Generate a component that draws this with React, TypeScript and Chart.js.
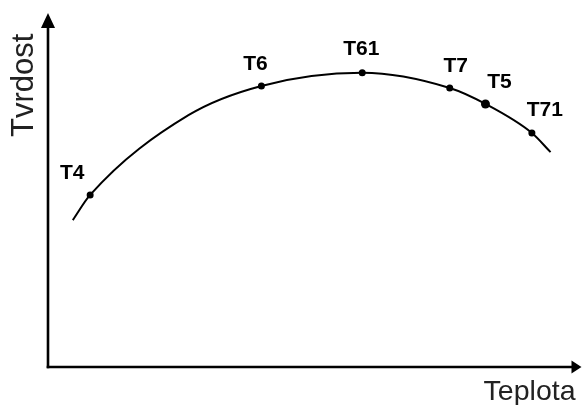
import React, { useEffect, useRef } from "react";
import { Chart, registerables } from "chart.js";

Chart.register(...registerables);

// Curve through the hardness-temperature relation (arbitrary units, 0..100)
const curveX = [4.65, 7.9, 26.4, 40.0, 58.9, 75.3, 82.0, 90.7, 94.2];
const curveY = [41.5, 48.6, 71.2, 79.4, 83.1, 78.8, 74.3, 66.1, 60.7];

// Labelled heat-treatment states
const markerNames = ["T4", "T6", "T61", "T7", "T5", "T71"];
const markerX = [7.9, 40.0, 58.9, 75.3, 82.0, 90.7];
const markerY = [48.6, 79.4, 83.1, 78.8, 74.3, 66.1];

// Axis titles
const xTitle = "Teplota";
const yTitle = "Tvrdost";

// label placement (style, not data)
const labelOffsets = [
  [-18, -16],
  [-6, -16],
  [-1, -18],
  [6, -16],
  [14, -16],
  [13, -17],
];
const markerRadius = [3.5, 3.5, 3.5, 3.5, 4.5, 3.5];

const axesPlugin = {
  id: "axesPlugin",
  afterDatasetsDraw(chart: any) {
    const ctx = chart.ctx;
    const { left, right, top, bottom } = chart.chartArea;
    ctx.save();
    ctx.strokeStyle = "#000";
    ctx.fillStyle = "#000";
    ctx.lineWidth = 2.6;
    ctx.lineCap = "butt";
    // y axis
    ctx.beginPath();
    ctx.moveTo(left, bottom + 1.3);
    ctx.lineTo(left, top + 12);
    ctx.stroke();
    // x axis
    ctx.beginPath();
    ctx.moveTo(left - 1.3, bottom);
    ctx.lineTo(right - 8, bottom);
    ctx.stroke();
    // y arrow
    ctx.beginPath();
    ctx.moveTo(left, top);
    ctx.lineTo(left - 7, top + 15);
    ctx.lineTo(left + 7, top + 15);
    ctx.closePath();
    ctx.fill();
    // x arrow
    ctx.beginPath();
    ctx.moveTo(right, bottom);
    ctx.lineTo(right - 10, bottom - 6.5);
    ctx.lineTo(right - 10, bottom + 6.5);
    ctx.closePath();
    ctx.fill();

    // axis titles
    ctx.fillStyle = "#222";
    ctx.font = '28.5px "Liberation Sans", Arial, sans-serif';
    ctx.textAlign = "right";
    ctx.textBaseline = "alphabetic";
    ctx.fillText(xTitle, right - 6, bottom + 33);

    ctx.save();
    ctx.translate(left - 15, top + 124);
    ctx.rotate(-Math.PI / 2);
    ctx.font = '31px "Liberation Sans", Arial, sans-serif';
    ctx.textAlign = "left";
    ctx.fillText(yTitle, 0, 0);
    ctx.restore();

    // marker labels
    const meta = chart.getDatasetMeta(1);
    ctx.fillStyle = "#000";
    ctx.font = 'bold 21px "Liberation Sans", Arial, sans-serif';
    ctx.textAlign = "center";
    meta.data.forEach((pt: any, i: number) => {
      const [dx, dy] = labelOffsets[i];
      ctx.fillText(markerNames[i], pt.x + dx, pt.y + dy);
    });
    ctx.restore();
  },
};

export default function App() {
  const ref = useRef<HTMLCanvasElement>(null);
  useEffect(() => {
    if (!ref.current) return;
    const chart = new Chart(ref.current, {
      type: "scatter",
      data: {
        datasets: [
          {
            type: "line",
            data: curveX.map((x, i) => ({ x, y: curveY[i] })),
            borderColor: "#000",
            borderWidth: 2,
            pointRadius: 0,
            cubicInterpolationMode: "monotone",
            fill: false,
          },
          {
            data: markerX.map((x, i) => ({ x, y: markerY[i] })),
            backgroundColor: "#000",
            borderColor: "#000",
            pointRadius: markerRadius,
            borderWidth: 0,
          },
        ],
      },
      options: {
        responsive: false,
        animation: false,
        layout: { padding: { left: 48, right: 0, top: 13, bottom: 38 } },
        plugins: {
          legend: { display: false },
          tooltip: { enabled: false },
        },
        scales: {
          x: { type: "linear", min: 0, max: 100, display: false },
          y: { type: "linear", min: 0, max: 100, display: false },
        },
      },
      plugins: [axesPlugin],
    });
    return () => chart.destroy();
  }, []);
  return (
    <div style={{ position: "fixed", left: 0, top: 0, width: 586, height: 405, background: "#fff" }}>
      <canvas ref={ref} width={586} height={405} style={{ display: "block" }} />
    </div>
  );
}
